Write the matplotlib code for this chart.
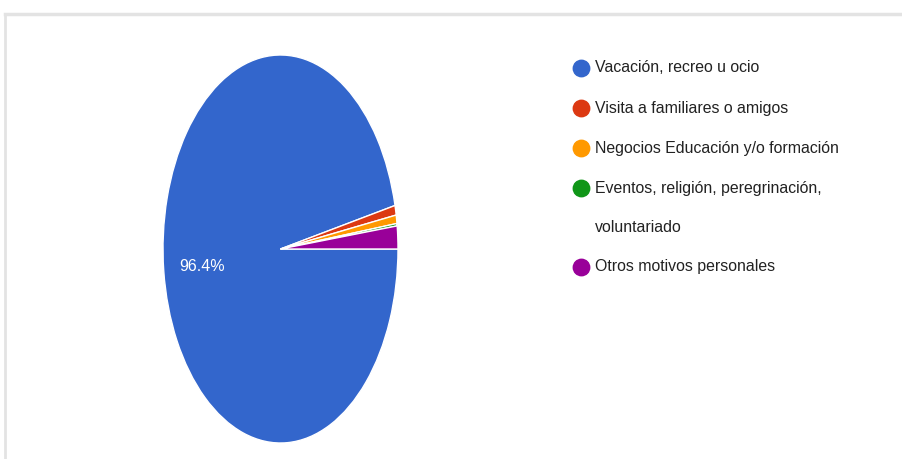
import matplotlib.pyplot as plt

# data
labels = ['Vacación, recreo u ocio', 'Visita a familiares o amigos',
          'Negocios Educación y/o formación',
          'Eventos, religión, peregrinación,\nvoluntariado',
          'Otros motivos personales']
values = [96.4, 0.8, 0.7, 0.2, 1.9]
colors = ['#3366cc', '#dc3912', '#ff9900', '#109618', '#990099']

plt.rcParams['font.family'] = ['Liberation Sans', 'DejaVu Sans']

W, H = 902, 459
fig = plt.figure(figsize=(W / 100, H / 100), dpi=100)

# stretched pie, like the reference
ax = fig.add_axes([163 / W, 1 - 443 / H, 235 / W, 388 / H])
ax.pie(values, colors=colors, startangle=0, counterclock=False,
       wedgeprops=dict(edgecolor='white', linewidth=1))
ax.set_aspect('auto')
ax.set_xlim(-1, 1)
ax.set_ylim(-1, 1)
ax.text(-0.67, -0.09, '96.4%', color='white', fontsize=11.5, ha='center', va='center')

# overlay in pixel coordinates for border and legend
ov = fig.add_axes([0, 0, 1, 1], zorder=-1)
ov.set_xlim(0, W)
ov.set_ylim(H, 0)
ov.axis('off')
ov.plot([5, W], [14, 14], color='#e3e3e3', lw=2.5)
ov.plot([5, 5], [14, H], color='#e3e3e3', lw=2)

lg = fig.add_axes([0, 0, 1, 1])
lg.set_xlim(0, W)
lg.set_ylim(H, 0)
lg.axis('off')
y = 68
for lab, c in zip(labels, colors):
    lg.scatter([581], [y], s=140, color=c)
    for k, line in enumerate(lab.split('\n')):
        lg.text(595, y + 39 * k, line, fontsize=11.4, color='#222222', va='center')
    y += 40 + 39 * lab.count('\n')

fig.savefig('out.png', dpi=100)
